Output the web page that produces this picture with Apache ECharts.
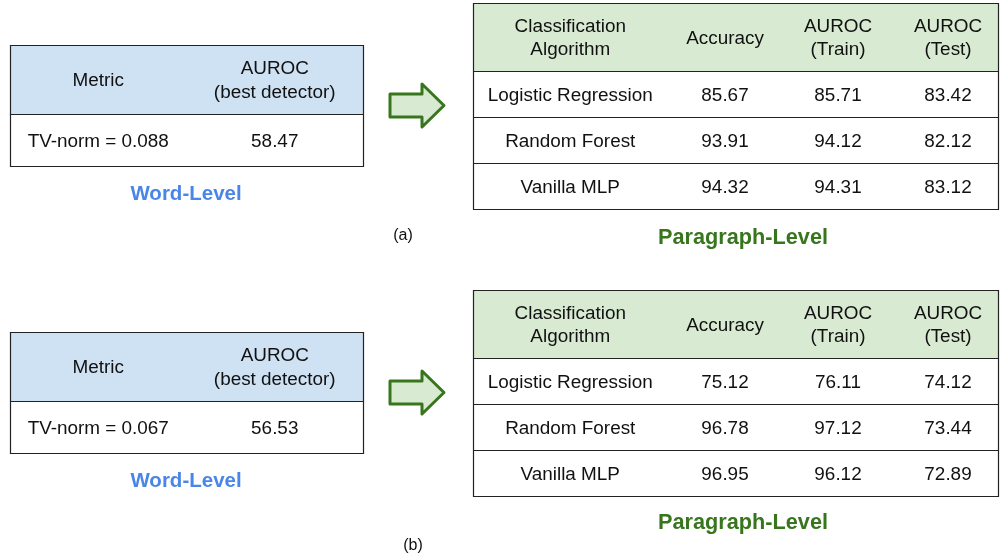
<!DOCTYPE html>
<html>
<head>
<meta charset="utf-8">
<script src="https://cdn.jsdelivr.net/npm/echarts@6/dist/echarts.min.js"></script>
<style>
html,body{margin:0;padding:0;background:#ffffff;}
#chart{width:1000px;height:558px;}
</style>
</head>
<body>
<div id="chart"></div>
<script>
// ---------------- DATA ----------------
const panelLabels = ['(a)', '(b)'];
const wordTitle = 'Word-Level';
const paraTitle = 'Paragraph-Level';

const wordHeader = ['Metric', 'AUROC\n(best detector)'];
const tvNorm = ['0.088', '0.067'];
const bestDetectorAuroc = [58.47, 56.53];

const paraHeader = ['Classification\nAlgorithm', 'Accuracy', 'AUROC\n(Train)', 'AUROC\n(Test)'];
const algorithms = ['Logistic Regression', 'Random Forest', 'Vanilla MLP'];
const accuracyA = [85.67, 93.91, 94.32];
const aurocTrainA = [85.71, 94.12, 94.31];
const aurocTestA = [83.42, 82.12, 83.12];
const accuracyB = [75.12, 96.78, 96.95];
const aurocTrainB = [76.11, 97.12, 96.12];
const aurocTestB = [74.12, 73.44, 72.89];

// ---------------- LAYOUT (pixel-space axis units) ----------------
const LAYOUT = {
  panelDy: [0, 287],
  wordX: [10.5, 186, 363.5],
  wordY: [45.5, 114.5, 166.5],
  paraX: [473.5, 667, 783, 893, 1003],
  paraRight: 998.5,
  paraY: [3.5, 71.5, 117.5, 163.5, 209.5],
  cellTextDy: 1,
  wordTitlePos: [[186, 194], [186, 481]],
  paraTitlePos: [[743, 238], [743, 523]],
  panelLabelPos: [[403, 236], [413, 546]],
  arrow: { x0: 390, xh: 422, xt: 444, sy0: 94, sy1: 117, hy0: 84, hy1: 127, ty: 105.5 }
};
const STYLE = {
  font: '"Liberation Sans", Arial, Helvetica, sans-serif',
  textColor: '#111111',
  blueFill: '#cfe2f3',
  greenFill: '#d9ead3',
  line: '#222222',
  wordTitleColor: '#4a86e8',
  paraTitleColor: '#38761d',
  arrowStroke: '#38761d'
};

// ---------------- BUILD ELEMENTS ----------------
const paraValues = [
  [accuracyA, aurocTrainA, aurocTestA],
  [accuracyB, aurocTrainB, aurocTestB]
];

const cells = [];
const rules = [];
const outlines = [];
const labels = [];
const arrows = [];

for (let p = 0; p < 2; p++) {
  const dy = LAYOUT.panelDy[p];
  const wx = LAYOUT.wordX, wy = LAYOUT.wordY.map(v => v + dy);
  const wordRows = [wordHeader, ['TV-norm = ' + tvNorm[p], bestDetectorAuroc[p].toFixed(2)]];
  wordRows.forEach((row, r) => {
    row.forEach((txt, c) => {
      cells.push({ x0: wx[c], x1: wx[c + 1], y0: wy[r], y1: wy[r + 1], text: txt,
        fill: r === 0 ? STYLE.blueFill : null });
    });
  });
  rules.push({ x0: wx[0], x1: wx[2], y0: wy[1], y1: wy[1] });
  outlines.push({ x0: wx[0], x1: wx[2], y0: wy[0], y1: wy[2] });

  const px = LAYOUT.paraX, py = LAYOUT.paraY.map(v => v + dy);
  const vals = paraValues[p];
  const paraRows = [paraHeader].concat(algorithms.map((a, i) =>
    [a, vals[0][i].toFixed(2), vals[1][i].toFixed(2), vals[2][i].toFixed(2)]));
  paraRows.forEach((row, r) => {
    row.forEach((txt, c) => {
      cells.push({ x0: px[c], x1: Math.min(px[c + 1], LAYOUT.paraRight), cx: (px[c] + px[c + 1]) / 2,
        y0: py[r], y1: py[r + 1], text: txt, fill: r === 0 ? STYLE.greenFill : null });
    });
    if (r > 0) rules.push({ x0: px[0], x1: LAYOUT.paraRight, y0: py[r], y1: py[r] });
  });
  outlines.push({ x0: px[0], x1: LAYOUT.paraRight, y0: py[0], y1: py[4] });

  labels.push({ pos: LAYOUT.wordTitlePos[p], text: wordTitle, size: 20.5, weight: 'bold', color: STYLE.wordTitleColor });
  labels.push({ pos: LAYOUT.paraTitlePos[p], text: paraTitle, size: 21.7, weight: 'bold', color: STYLE.paraTitleColor });
  labels.push({ pos: LAYOUT.panelLabelPos[p], text: panelLabels[p], size: 16, weight: 'normal', color: STYLE.textColor });
  arrows.push({ dy: dy });
}

// ---------------- CHART ----------------
const chart = echarts.init(document.getElementById('chart'), null, { renderer: 'canvas' });

function makeSeries(name, list, renderFn, z) {
  return {
    type: 'custom', name: name, z: z, clip: false, silent: true,
    coordinateSystem: 'cartesian2d',
    data: list.map((d, i) => [d.x0 !== undefined ? d.x0 : 0, d.y0 !== undefined ? d.y0 : 0, i]),
    renderItem: function (params, api) { return renderFn(list[params.dataIndex], api); }
  };
}

const option = {
  animation: false,
  backgroundColor: '#ffffff',
  grid: { left: 0, right: 0, top: 0, bottom: 0 },
  xAxis: { type: 'value', min: 0, max: 1000, show: false },
  yAxis: { type: 'value', min: 0, max: 558, inverse: true, show: false },
  series: [
    makeSeries('cells', cells, function (d, api) {
      const a = api.coord([d.x0, d.y0]), b = api.coord([d.x1, d.y1]);
      const cx = api.coord([d.cx !== undefined ? d.cx : (d.x0 + d.x1) / 2, (d.y0 + d.y1) / 2 + LAYOUT.cellTextDy]);
      const children = [];
      if (d.fill) {
        children.push({ type: 'rect', shape: { x: a[0], y: a[1], width: b[0] - a[0], height: b[1] - a[1] },
          style: { fill: d.fill } });
      }
      children.push({ type: 'text', style: { text: d.text, x: cx[0], y: cx[1], align: 'center', verticalAlign: 'middle',
        font: '18.9px ' + STYLE.font, fill: STYLE.textColor, lineHeight: 23.5 } });
      return { type: 'group', children: children };
    }, 1),
    makeSeries('rules', rules, function (d, api) {
      const a = api.coord([d.x0, d.y0]), b = api.coord([d.x1, d.y1]);
      return { type: 'line', shape: { x1: a[0], y1: a[1], x2: b[0], y2: b[1] },
        style: { stroke: STYLE.line, lineWidth: 1.2 } };
    }, 2),
    makeSeries('outlines', outlines, function (d, api) {
      const a = api.coord([d.x0, d.y0]), b = api.coord([d.x1, d.y1]);
      return { type: 'rect', shape: { x: a[0], y: a[1], width: b[0] - a[0], height: b[1] - a[1] },
        style: { fill: null, stroke: STYLE.line, lineWidth: 1.2 } };
    }, 3),
    makeSeries('labels', labels.map(l => Object.assign({ x0: l.pos[0], y0: l.pos[1] }, l)), function (d, api) {
      const c = api.coord(d.pos);
      return { type: 'text', style: { text: d.text, x: c[0], y: c[1], align: 'center', verticalAlign: 'middle',
        font: d.weight + ' ' + d.size + 'px ' + STYLE.font, fill: d.color } };
    }, 4),
    makeSeries('arrows', arrows, function (d, api) {
      const A = LAYOUT.arrow, dy = d.dy;
      const pts = [
        [A.x0, A.sy0], [A.xh, A.sy0], [A.xh, A.hy0], [A.xt, A.ty], [A.xh, A.hy1], [A.xh, A.sy1], [A.x0, A.sy1]
      ].map(pt => api.coord([pt[0], pt[1] + dy]));
      return { type: 'polygon', shape: { points: pts },
        style: { fill: STYLE.greenFill, stroke: STYLE.arrowStroke, lineWidth: 3, lineJoin: 'round' } };
    }, 5)
  ]
};
chart.setOption(option);
</script>
</body>
</html>
